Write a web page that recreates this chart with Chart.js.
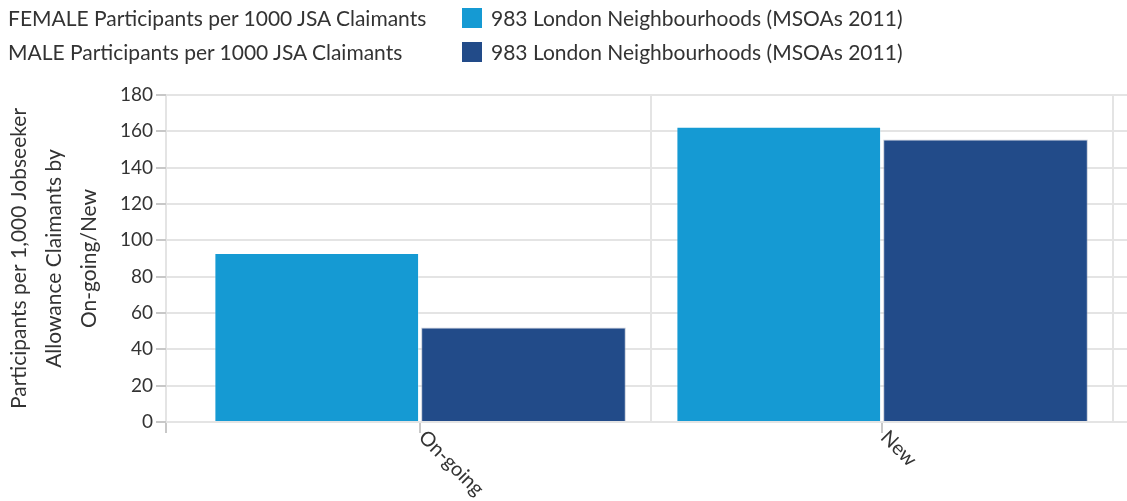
<!DOCTYPE html>
<html>
<head>
<meta charset="utf-8">
<script src="https://cdn.jsdelivr.net/npm/chart.js@4.4.1/dist/chart.umd.min.js"></script>
<style>
  html, body { margin: 0; padding: 0; background: #fff; }
  #wrap { position: relative; width: 1127px; height: 501px; overflow: hidden; }
  #chart { position: absolute; left: 0; top: 0; }
  .lg { position: absolute; font-family: Lato, sans-serif; font-size: 21px; color: #333; white-space: nowrap; height: 24px; line-height: 24px; }
  .box { position: absolute; width: 20px; height: 20px; }
</style>
</head>
<body>
<div id="wrap">
  <canvas id="chart" width="1127" height="501"></canvas>
  <div id="legend"></div>
</div>
<script>
// ---- data ----
const categories = ['On-going', 'New'];
const femaleValues = [93, 162.5];
const maleValues = [52, 155.5];
const seriesNames = ['FEMALE Participants per 1000 JSA Claimants', 'MALE Participants per 1000 JSA Claimants'];
const geographyName = '983 London Neighbourhoods (MSOAs 2011)';
const seriesColors = ['#159ad3', '#224b89'];
const yAxisTitle = ['Participants per 1,000 Jobseeker', 'Allowance Claimants by', 'On-going/New'];
const yMin = 0, yMax = 180, yStep = 20;

// ---- legend (html text) ----
const legendEl = document.getElementById('legend');
seriesNames.forEach((name, i) => {
  const top = 6 + i * 34;
  const t = document.createElement('div');
  t.className = 'lg'; t.style.left = '8px'; t.style.top = top + 'px'; t.textContent = name;
  const b = document.createElement('div');
  b.className = 'box'; b.style.left = '462px'; b.style.top = (top + 2) + 'px'; b.style.background = seriesColors[i];
  const g = document.createElement('div');
  g.className = 'lg'; g.style.left = '491px'; g.style.top = top + 'px'; g.textContent = geographyName;
  legendEl.appendChild(t); legendEl.appendChild(b); legendEl.appendChild(g);
});

// ---- rotated category labels ----
const xLabelPlugin = {
  id: 'xLabels',
  afterDraw(chart) {
    const { ctx, chartArea, scales } = chart;
    const x = scales.x;
    ctx.save();
    ctx.font = '20px Lato';
    ctx.fillStyle = '#333';
    ctx.textAlign = 'left';
    ctx.textBaseline = 'middle';
    categories.forEach((c, i) => {
      const px = x.getPixelForValue(i);
      ctx.save();
      ctx.translate(px + 2, chartArea.bottom + 12);
      ctx.rotate(Math.PI / 4);
      ctx.fillText(c, 0, 0);
      ctx.restore();
    });
    ctx.restore();
  }
};

const gridGray = '#e4e4e4';
const tickGray = '#c8c8c8';

new Chart(document.getElementById('chart'), {
  type: 'bar',
  data: {
    datasets: [
      {
        label: seriesNames[0],
        data: categories.map((c, i) => ({ x: i, y: femaleValues[i] })),
        backgroundColor: seriesColors[0],
        borderColor: 'rgba(255,255,255,0.35)',
        borderWidth: 1,
        categoryPercentage: 1.79,
        barPercentage: 0.99
      },
      {
        label: seriesNames[1],
        data: categories.map((c, i) => ({ x: i, y: maleValues[i] })),
        backgroundColor: seriesColors[1],
        borderColor: 'rgba(160,170,190,0.6)',
        borderWidth: 1,
        categoryPercentage: 1.79,
        barPercentage: 0.99
      }
    ]
  },
  options: {
    responsive: false,
    animation: false,
    layout: { padding: { top: 95, right: 0, bottom: 0, left: 0 } },
    plugins: { legend: { display: false }, tooltip: { enabled: false } },
    scales: {
      x: {
        type: 'linear',
        offset: false,
        min: -0.55,
        max: 1.53,
        afterBuildTicks: s => {
          s.ticks = [s.min, ...categories.flatMap((c, i) => [i, i + 0.5])].map(v => ({ value: v }));
        },
        afterFit: s => { s.height = 79; },
        ticks: { display: false },
        grid: {
          offset: false,
          color: ctx => (ctx.tick && Number.isInteger(ctx.tick.value)) ? 'rgba(0,0,0,0)' : gridGray,
          lineWidth: 2,
          tickLength: 11,
          tickColor: ctx => (ctx.tick && Math.abs(ctx.tick.value % 1) === 0.5) ? 'rgba(0,0,0,0)' : tickGray
        },
        border: { display: false }
      },
      y: {
        min: yMin,
        max: yMax,
        ticks: { stepSize: yStep, color: '#333', font: { family: 'Lato', size: 19 }, padding: 3 },
        grid: { color: gridGray, lineWidth: 2, tickLength: 10, tickColor: tickGray },
        border: { display: false },
        title: {
          display: true,
          text: yAxisTitle,
          color: '#333',
          font: { family: 'Lato', size: 21, lineHeight: 1.67 },
          padding: { top: 2, bottom: 0 }
        },
        afterFit: s => { s.width = 166; }
      }
    }
  },
  plugins: [xLabelPlugin]
});
</script>
</body>
</html>
